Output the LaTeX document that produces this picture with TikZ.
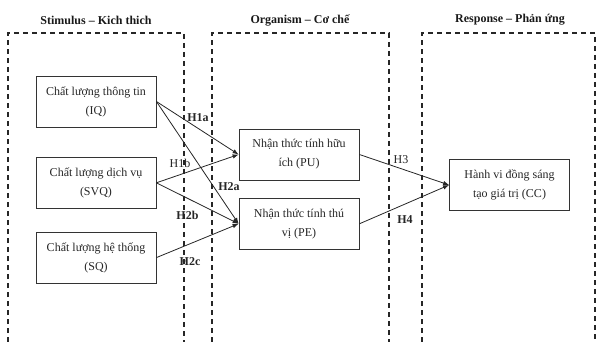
\documentclass[tikz,border=0pt]{standalone}
\usepackage{fontspec}
\setmainfont{Liberation Serif}
\usetikzlibrary{arrows.meta,positioning}

\begin{document}
\begin{tikzpicture}[
  x=1pt, y=-1pt,
  varbox/.style={rectangle, draw=black!80, line width=0.8pt, align=center,
               minimum width=120pt, minimum height=51pt, inner sep=0pt,
               text=black!85, font=\fontsize{12}{19}\selectfont},
  stage/.style={draw=black!85, line width=1.3pt, dash pattern=on 5pt off 4pt},
  title/.style={text=black!90, font=\fontsize{12}{14}\selectfont\bfseries},
  hyp/.style={inner sep=0pt, text=black!85, font=\fontsize{12}{14}\selectfont},
  arrow/.style={-{Latex[length=6pt,width=4.5pt]}, line width=0.8pt, draw=black!85},
  node distance=30pt
]
  \useasboundingbox (0,0) rectangle (597,342);
  % stage frames
  \draw[stage] (8,342) |- (184,33) -- (184,342);
  \draw[stage] (212,342) |- (389,33) -- (389,342);
  \draw[stage] (422,342) |- (595,33) -- (595,342);
  \node[title] (ts) at (96,20) {Stimulus – Kich thich};
  \node[title] (to) at (300,20) {Organism – Cơ chế};
  \node[title] (tr) at (510,20) {Response – Phản ứng};
  % constructs
  \node[varbox] (iq) at (96,101.5) {Chất lượng thông tin\\(IQ)};
  \node[varbox,below=29.5pt of iq] (svq) {Chất lượng dịch vụ\\(SVQ)};
  \node[varbox,below=23pt of svq] (sq) {Chất lượng hệ thống\\(SQ)};
  \node[varbox] (pu) at (299,154.5) {Nhận thức tính hữu\\ích (PU)};
  \node[varbox,below=17.5pt of pu] (pe) {Nhận thức tính thú\\vị (PE)};
  \node[varbox] (cc) at (509.5,185) {Hành vi đồng sáng\\tạo giá trị (CC)};
  % paths
  \draw[arrow] (iq.east) -- (pu.west);
  \draw[arrow] (iq.east) -- (pe.west);
  \draw[arrow] (svq.east) -- (pu.west);
  \draw[arrow] (svq.east) -- (pe.west);
  \draw[arrow] (sq.east) -- (pe.west);
  \draw[arrow] (pu.east) -- (cc.west);
  \draw[arrow] (pe.east) -- (cc.west);
  \node[hyp,font=\fontsize{12}{14}\selectfont\bfseries] (h1a) at (198,117.5) {H1a};
  \node[hyp] (h1b) at (180,163) {H1b};
  \node[hyp,font=\fontsize{12}{14}\selectfont\bfseries] (h2a) at (229,187) {H2a};
  \node[hyp,font=\fontsize{12}{14}\selectfont\bfseries] (h2b) at (187.5,215) {H2b};
  \node[hyp,font=\fontsize{12}{14}\selectfont\bfseries] (h2c) at (190,262) {H2c};
  \node[hyp] (h3) at (401,160) {H3};
  \node[hyp,font=\fontsize{12}{14}\selectfont\bfseries] (h4) at (405,219.5) {H4};
\end{tikzpicture}
\end{document}
